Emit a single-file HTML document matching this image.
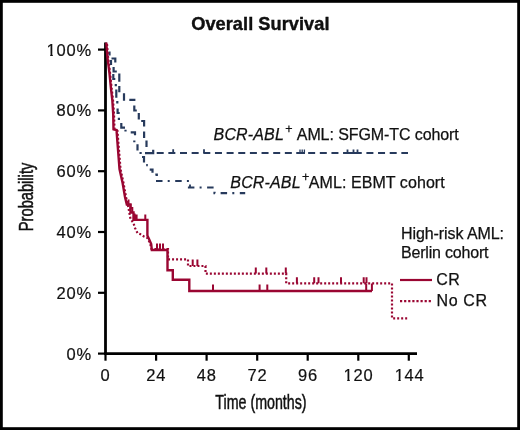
<!DOCTYPE html>
<html><head><meta charset="utf-8">
<style>
html,body{margin:0;padding:0;background:#fff;}
body{width:520px;height:430px;overflow:hidden;}
svg{display:block;will-change:transform;}
text{font-family:"Liberation Sans",sans-serif;fill:#111;}
</style></head>
<body>
<svg width="520" height="430" viewBox="0 0 520 430">
<rect x="0" y="0" width="520" height="430" fill="#fff"/>
<rect x="1.4" y="1.4" width="517.2" height="427.2" fill="none" stroke="#000" stroke-width="2.8"/>

<!-- title -->
<text x="191.2" y="29.9" font-size="18.2" font-weight="bold" stroke="#000" stroke-width="0.35" textLength="138.3" lengthAdjust="spacing">Overall Survival</text>

<!-- axes -->
<g stroke="#000" fill="none">
<line x1="105.5" y1="42.5" x2="105.5" y2="355" stroke-width="2.8"/>
<line x1="104.1" y1="353.6" x2="417" y2="353.6" stroke-width="2.8"/>
<g stroke-width="2.2">
<line x1="98" y1="49.6" x2="105" y2="49.6"/>
<line x1="98" y1="110.4" x2="105" y2="110.4"/>
<line x1="98" y1="171.2" x2="105" y2="171.2"/>
<line x1="98" y1="232" x2="105" y2="232"/>
<line x1="98" y1="292.8" x2="105" y2="292.8"/>
<line x1="98" y1="353.6" x2="105" y2="353.6"/>
<line x1="105.5" y1="354" x2="105.5" y2="360.7"/>
<line x1="156.1" y1="354" x2="156.1" y2="360.7"/>
<line x1="206.6" y1="354" x2="206.6" y2="360.7"/>
<line x1="257.2" y1="354" x2="257.2" y2="360.7"/>
<line x1="307.7" y1="354" x2="307.7" y2="360.7"/>
<line x1="358.3" y1="354" x2="358.3" y2="360.7"/>
<line x1="408.8" y1="354" x2="408.8" y2="360.7"/>
</g>
</g>

<!-- y labels -->
<g font-size="16.5" text-anchor="end" letter-spacing="0.8" stroke="#111" stroke-width="0.2">
<text x="92" y="55.5">100%</text>
<text x="92" y="116.3">80%</text>
<text x="92" y="177.1">60%</text>
<text x="92" y="237.9">40%</text>
<text x="92" y="298.7">20%</text>
<text x="92" y="359.5">0%</text>
</g>
<!-- x labels -->
<g font-size="16.5" text-anchor="middle" letter-spacing="0.8" stroke="#111" stroke-width="0.2">
<text x="105.5" y="380.8">0</text>
<text x="156.3" y="380.8">24</text>
<text x="206.8" y="380.8">48</text>
<text x="257.4" y="380.8">72</text>
<text x="307.9" y="380.8">96</text>
<text x="358.5" y="380.8">120</text>
<text x="409.6" y="380.8">144</text>
</g>

<!-- remove foot of "1" to mimic Helvetica -->
<g fill="#fff">
<rect x="46.3" y="53.6" width="3.9" height="2.8"/><rect x="52.8" y="53.6" width="2.6" height="2.8"/>
<rect x="343.3" y="378.6" width="3.9" height="2.8"/><rect x="349.8" y="378.6" width="2.7" height="2.8"/>
<rect x="395.3" y="378.6" width="3" height="2.8"/><rect x="400.7" y="378.6" width="3.4" height="2.8"/>
</g>
<text x="215.3" y="408.6" font-size="20" stroke="#111" stroke-width="0.5" textLength="91.3" lengthAdjust="spacingAndGlyphs">Time (months)</text>
<text transform="translate(32.7,231.2) rotate(-90)" font-size="20" stroke="#111" stroke-width="0.5" textLength="68.5" lengthAdjust="spacingAndGlyphs">Probability</text>

<!-- annotations -->
<g font-size="16" stroke="#111" stroke-width="0.25">
<text x="213.6" y="140" font-style="italic" textLength="70.2" lengthAdjust="spacing">BCR-ABL</text>
<text x="285.2" y="133" font-size="12.5">+</text>
<text x="296.8" y="140" textLength="162" lengthAdjust="spacing">AML: SFGM-TC cohort</text>
<text x="230.3" y="188" font-style="italic" textLength="70.3" lengthAdjust="spacing">BCR-ABL</text>
<text x="302" y="181" font-size="12.5">+</text>
<text x="308.8" y="188" textLength="135.9" lengthAdjust="spacing">AML: EBMT cohort</text>
<text x="401" y="238.6" textLength="103" lengthAdjust="spacing">High-risk AML:</text>
<text x="401" y="258.2" textLength="87.5" lengthAdjust="spacing">Berlin cohort</text>
<text x="436.3" y="284.8" textLength="23.5" lengthAdjust="spacing">CR</text>
<text x="436.5" y="305.6" textLength="50.5" lengthAdjust="spacing">No CR</text>
</g>

<!-- legend lines -->
<line x1="400" y1="280" x2="432" y2="280" stroke="#9a0632" stroke-width="2.2"/>
<line x1="400" y1="301.1" x2="432" y2="301.1" stroke="#9a0632" stroke-width="2.2" stroke-dasharray="2.2 1.9"/>

<!-- blue SFGM dashed -->
<g fill="none" stroke="#273a5c" stroke-width="2.2" stroke-linecap="butt">
<path d="M109.5,51.5 V55.5 M111.5,58.5 H115.3 V62.5 M113.6,67 V71.5 H116.8 M119.3,73.5 V81.8 M119.3,86 V92.3 M124,93.3 V100.7 M129.3,99.8 H135.4 M134.3,105.5 V110.5 H136.8 M138.8,113 V119.5 M141.2,121 H144.1 V126.5 M144.1,131.5 V138 M146.5,140.5 V147 M145,153.2 H153.2 V149.8"/>
</g>
<path d="M156.7,153 H408" fill="none" stroke="#273a5c" stroke-width="2.2" stroke-dasharray="7 4.65" stroke-dashoffset="0"/>
<!-- blue EBMT dash-dot -->
<g fill="none" stroke="#273a5c" stroke-width="2.2" stroke-linecap="butt">
<path d="M111,60 V65 M113.3,74 V79 H115.3 M115.8,84 V86.3 M116.3,89.6 V97.7 M117.3,101 V103.4 M117.6,108.6 V113 H119.7 M118.9,117.8 V119.9 M121.3,123 V127.6 H125 M125.5,129.8 V131.5 M130.7,132.3 H135 V135.2 M134.3,140.5 V142.3 M137.5,144.2 V150.5 M140.6,151.9 V154 M142,157 H144 V162.4 M146.2,165.1 H147.8 M149.7,169.7 H152.5 V172.8 M155.3,174.5 H156.8 V176"/>
</g>
<path d="M156,181 H189 V187.5 H214.5 V193.2 H245.2" fill="none" stroke="#273a5c" stroke-width="2.2" stroke-dasharray="6.5 5.2 2 5.5"/>

<!-- red CR solid -->
<path d="M106.3,42.5 L107.3,56.3 L109.4,72.6 L111,88.9 L112.3,100 L113.2,114 L113.5,129.3 L116.5,130 L117.4,141.8 L118.8,160 L119.5,169 L122.6,183 L125,197 L126.8,204.5 H130.5 V212.5 H133.5 V219.9 H147.4 V235.5 L149,239 L151.2,244 L151.8,250 H167.5 V270.3 H172.8 V279.8 H189.3 V291 H372" fill="none" stroke="#9a0632" stroke-width="2.4" stroke-linejoin="miter"/>
<!-- red No CR dotted -->
<path d="M107,44 L108,56.3 L110,72.6 L111.7,88.9 L113,100 L114,114 L114.5,129.3 L117.5,131 L118.3,141.8 L119.8,160 L120.5,169 L123.5,183 L126,197 L128.4,207.6 L130.5,219 L133.5,223 L135,228 L137.5,233 L140,234 L144,236.5 L147.5,238 L150,243 L151.5,249 H168 V259.4 H188 V266 H205.5 V273.6 H286.2 V283.3 H392 V318.3 H407.5" fill="none" stroke="#9a0632" stroke-width="2.2" stroke-dasharray="2 2"/>

<!-- censor ticks -->
<g stroke="#9a0632" stroke-width="2" fill="none">
<path d="M128.5,205 V199.5 M130.5,209 V204 M132.3,212.5 V207 M134.6,219.9 V213.5 M136.6,220 V214.5 M145.3,220 V214.5 M157,250 V243.5 M160,250 V243.5 M163,250 V243.5 M213,291 V284.5 M259.6,291 V284.5 M267.3,291 V284.5 M366.2,291 V283.5 M371.9,291 V283.5"/>
<path d="M192.7,266 V259.5 M197.4,266 V259.5 M255.8,273.6 V267.5 M266.3,273.6 V267.5 M285.8,273.6 V267.5 M296.9,283.3 V277.3 M314.2,283.3 V277.3 M318.5,283.3 V277.3 M341,283.3 V277.3 M363.7,283.3 V277.3 M366.5,283.3 V277.3"/>
</g>
<g stroke="#273a5c" stroke-width="1.8" fill="none">
<path d="M173.2,153 V149.3 M204,153 V149.3 M347.5,153 V149.5 M353.5,153 V149.5 M357.5,153 V149.5 M190,187.5 V184.5"/>
<path d="M296.5,153 H305 M343.5,153 H359.6" stroke-width="2.2"/>
<path d="M300,153 V149.5 M302.2,153 V149.5 M304.4,153 V149.5" stroke-width="1.3"/>
</g>
</svg>
</body></html>
